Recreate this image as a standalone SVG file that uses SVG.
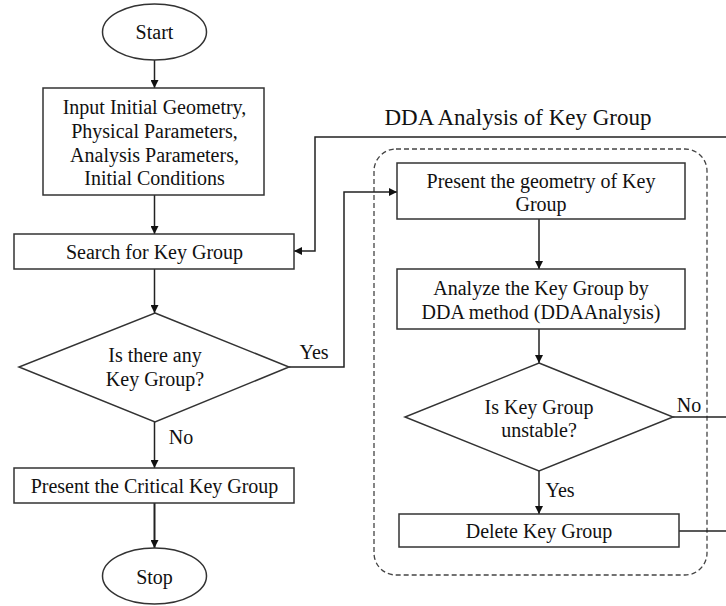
<svg xmlns="http://www.w3.org/2000/svg" width="726" height="606" viewBox="0 0 726 606" font-family="Liberation Serif, Times New Roman, serif">
  <style>
    text { font-size: 20px; fill: #111; text-anchor: middle; dominant-baseline: central; }
    .title { font-size: 23px; }
    .shape { fill: #fff; stroke: #333; stroke-width: 1.5; }
    .line { fill: none; stroke: #222; stroke-width: 1.5; }
    .thick { stroke-width: 2; }
    .frame { fill: none; stroke: #444; stroke-width: 1.3; stroke-dasharray: 5 3; }
  </style>
  <defs>
    <marker id="arrow" viewBox="0 0 10 10" refX="10" refY="5" markerWidth="8" markerHeight="8" markerUnits="userSpaceOnUse" orient="auto">
      <path d="M0,0 L10,5 L0,10 Z" fill="#111"/>
    </marker>
  </defs>
  <rect width="726" height="606" fill="#fff"/>

  <!-- dashed frame of the DDA sub-process -->
  <g id="dda-frame">
    <rect class="frame" x="374" y="149" width="333" height="426" rx="22" ry="22"/>
    <text class="title" x="518" y="117">DDA Analysis of Key Group</text>
  </g>

  <g id="connectors">
    <line class="line" x1="154.5" y1="60" x2="154.5" y2="88" marker-end="url(#arrow)"/>
    <line class="line" x1="154.5" y1="195" x2="154.5" y2="234" marker-end="url(#arrow)"/>
    <line class="line" x1="154.5" y1="269" x2="154.5" y2="313" marker-end="url(#arrow)"/>
    <line class="line" x1="154.5" y1="422" x2="154.5" y2="468" marker-end="url(#arrow)"/>
    <line class="line thick" x1="154.5" y1="503" x2="154.5" y2="548" marker-end="url(#arrow)"/>
    <!-- Yes branch into the DDA analysis -->
    <polyline class="line" points="289,367 344,367 344,192 397,192" marker-end="url(#arrow)"/>
    <!-- return path back to the search step -->
    <polyline class="line" points="726,137 315,137 315,251 294,251" marker-end="url(#arrow)"/>
    <line class="line" x1="539" y1="219" x2="539" y2="269" marker-end="url(#arrow)"/>
    <line class="line" x1="539" y1="329" x2="539" y2="363" marker-end="url(#arrow)"/>
    <line class="line" x1="539" y1="471" x2="539" y2="514" marker-end="url(#arrow)"/>
    <line class="line" x1="673" y1="417" x2="726" y2="417"/>
    <line class="line" x1="679" y1="531" x2="726" y2="531"/>
    <text x="314" y="352">Yes</text>
    <text x="181" y="437">No</text>
    <text x="689" y="405">No</text>
    <text x="560" y="490">Yes</text>
  </g>

  <g id="start">
    <ellipse class="shape" cx="154.5" cy="32" rx="52" ry="28"/>
    <text x="154.5" y="32">Start</text>
  </g>

  <g id="input">
    <rect class="shape" x="43" y="88" width="221" height="107"/>
    <text x="154.5" y="107">Input Initial Geometry,</text>
    <text x="154.5" y="130.5">Physical Parameters,</text>
    <text x="154.5" y="154.5">Analysis Parameters,</text>
    <text x="154.5" y="178">Initial Conditions</text>
  </g>

  <g id="search">
    <rect class="shape" x="14" y="234" width="280" height="35"/>
    <text x="154.5" y="251.5">Search for Key Group</text>
  </g>

  <g id="any-key-group">
    <polygon class="shape" points="155,313 289,367 155,422 19,367"/>
    <text x="155" y="355">Is there any</text>
    <text x="155" y="379">Key Group?</text>
  </g>

  <g id="critical">
    <rect class="shape" x="14" y="468" width="280" height="35"/>
    <text x="154.5" y="486">Present the Critical Key Group</text>
  </g>

  <g id="stop">
    <ellipse class="shape" cx="154.5" cy="576" rx="52" ry="28"/>
    <text x="154.5" y="577">Stop</text>
  </g>

  <g id="geometry">
    <rect class="shape" x="397" y="163" width="288" height="56"/>
    <text x="541" y="181">Present the geometry of Key</text>
    <text x="541" y="204">Group</text>
  </g>

  <g id="analyze">
    <rect class="shape" x="397" y="269" width="288" height="60"/>
    <text x="541" y="288">Analyze the Key Group by</text>
    <text x="541" y="312">DDA method (DDAAnalysis)</text>
  </g>

  <g id="unstable">
    <polygon class="shape" points="539,363 673,417 539,471 405,417"/>
    <text x="539" y="407">Is Key Group</text>
    <text x="539" y="430">unstable?</text>
  </g>

  <g id="delete">
    <rect class="shape" x="399" y="514" width="280" height="33"/>
    <text x="539" y="531" font-size="17">Delete Key Group</text>
  </g>
</svg>
